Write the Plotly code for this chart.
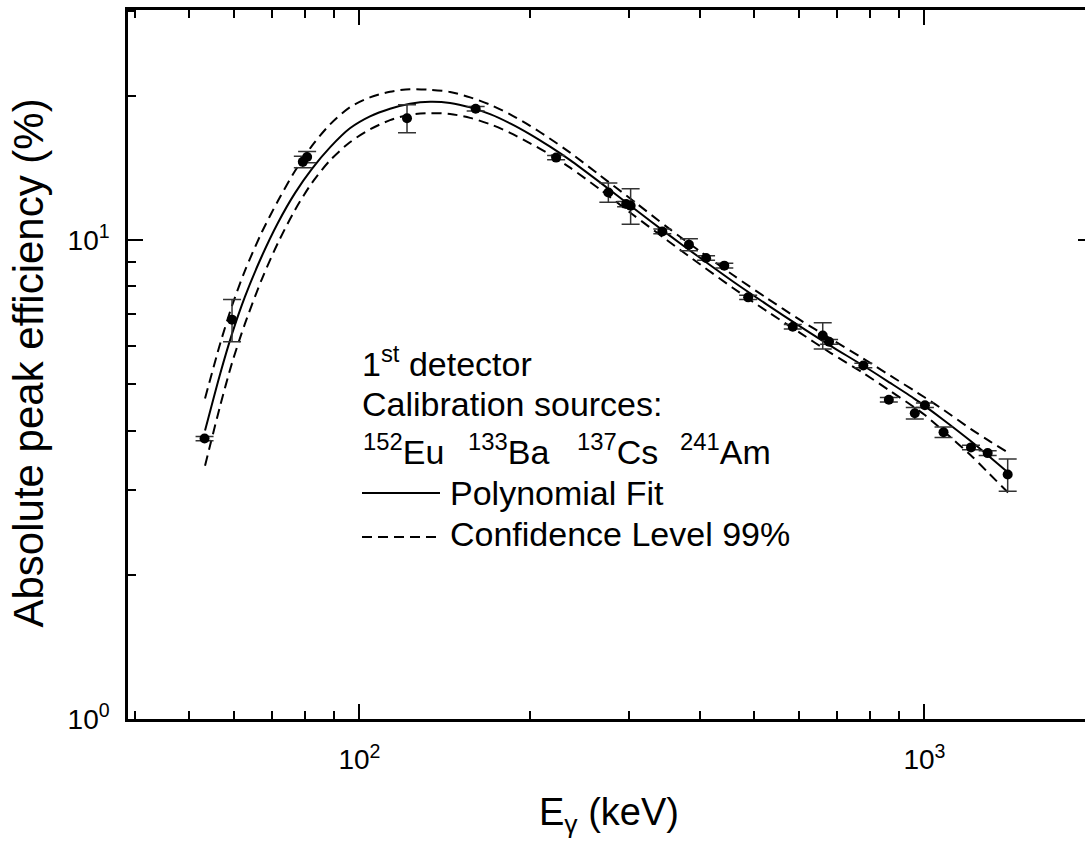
import plotly.graph_objects as go

# ---- measured data points (energy keV, efficiency %, error %) ----
energy = [53.2, 59.5, 79.4, 80.8, 121.4, 160.6, 222.9, 275.8, 296.5, 302.0,
          343.6, 383.0, 410.7, 442.4, 487.6, 584.8, 660.7, 678.0, 779.6, 865.0,
          961.5, 1002.0, 1081.0, 1209.0, 1294.0, 1404.0]
efficiency = [3.85, 6.82, 14.56, 14.90, 17.95, 18.80, 14.86, 12.57, 11.89, 11.79,
              10.42, 9.78, 9.17, 8.84, 7.59, 6.59, 6.32, 6.13, 5.47, 4.64,
              4.35, 4.52, 3.97, 3.69, 3.59, 3.24]
eff_error = [0.04, 0.69, 0.40, 0.40, 1.20, 0.20, 0.15, 0.58, 0.15, 1.00,
             0.12, 0.28, 0.10, 0.10, 0.08, 0.07, 0.40, 0.07, 0.06, 0.05,
             0.12, 0.05, 0.10, 0.04, 0.04, 0.25]

# ---- fit curve and 99% confidence band ----
fit_energy = [53.3, 56.7, 59.5, 62.7, 67.2, 71.8, 76.9, 82.4, 88.7, 96.2,
              104.4, 113.3, 122.9, 133.4, 144.7, 157.0, 170.3, 184.8, 200.5, 217.5,
              236.0, 266.6, 305.0, 350.4, 400.6, 458.3, 526.4, 602.3, 680.7, 778.5,
              870.0, 961.0, 1002.0, 1081.0, 1209.0, 1296.0, 1406.0]
fit_eff = [4.00, 5.26, 6.37, 7.61, 9.26, 10.88, 12.53, 14.08, 15.61, 17.11,
           18.12, 18.80, 19.26, 19.44, 19.33, 18.92, 18.31, 17.52, 16.62, 15.66,
           14.68, 13.19, 11.68, 10.31, 9.18, 8.19, 7.33, 6.60, 6.02, 5.47,
           5.03, 4.66, 4.50, 4.21, 3.80, 3.55, 3.27]
upper_eff = [4.67, 6.08, 7.29, 8.62, 10.39, 12.09, 13.93, 15.73, 17.43, 18.93,
             19.85, 20.40, 20.65, 20.59, 20.38, 19.85, 19.17, 18.29, 17.31, 16.27,
             15.22, 13.64, 12.08, 10.64, 9.47, 8.45, 7.56, 6.81, 6.23, 5.66,
             5.21, 4.84, 4.69, 4.42, 4.03, 3.82, 3.60]
lower_eff = [3.38, 4.51, 5.54, 6.68, 8.29, 9.88, 11.55, 13.16, 14.66, 16.00,
             17.02, 17.79, 18.27, 18.40, 18.33, 17.99, 17.45, 16.74, 15.92, 15.07,
             14.16, 12.75, 11.29, 9.99, 8.90, 7.94, 7.10, 6.40, 5.82, 5.28,
             4.84, 4.47, 4.31, 3.99, 3.55, 3.27, 2.97]

# ---- axis ticks ----
x_major = [100, 1000]
x_major_text = ["10<sup>2</sup>", "10<sup>3</sup>"]
x_minor = [40, 50, 60, 70, 80, 90, 200, 300, 400, 500, 600, 700, 800, 900]
y_major = [1, 10]
y_major_text = ["10<sup>0</sup>", "10<sup>1</sup>"]
y_minor = [2, 3, 4, 5, 6, 7, 8, 9, 20, 30]

isotopes = [("152", "Eu"), ("133", "Ba"), ("137", "Cs"), ("241", "Am")]

W, H = 1085, 842
L, R, T, B = 128, 0, 10, 123
PW, PH = W - L - R, H - T - B


def px(xp):
    return (xp - L) / PW


def py(yp):
    return (H - B - yp) / PH


FONT = "Liberation Sans, Arial, sans-serif"

fig = go.Figure()

dash_line = dict(color="black", width=2, dash="10px,6px", shape="spline", smoothing=0.8)
fig.add_trace(go.Scatter(x=fit_energy, y=upper_eff, mode="lines", line=dash_line,
                         showlegend=False, hoverinfo="skip"))
fig.add_trace(go.Scatter(x=fit_energy, y=lower_eff, mode="lines", line=dash_line,
                         showlegend=False, hoverinfo="skip"))
fig.add_trace(go.Scatter(x=fit_energy, y=fit_eff, mode="lines",
                         line=dict(color="black", width=2, shape="spline", smoothing=0.8),
                         showlegend=False, hoverinfo="skip"))
fig.add_trace(go.Scatter(x=energy, y=efficiency, mode="markers",
                         marker=dict(color="black", size=10),
                         error_y=dict(type="data", array=eff_error, visible=True,
                                      color="#333333", thickness=1.5, width=9),
                         showlegend=False))
# carrier for the right-hand tick axis
fig.add_trace(go.Scatter(x=[None], y=[None], yaxis="y2", showlegend=False, hoverinfo="skip"))

axis_common = dict(type="log", showgrid=False, zeroline=False, showline=True,
                   linecolor="black", linewidth=2.5, ticks="inside", ticklen=15,
                   tickwidth=2, tickcolor="black",
                   tickfont=dict(family=FONT, size=28, color="black"))

fig.update_layout(
    width=W, height=H,
    margin=dict(l=L, r=R, t=T, b=B, pad=0),
    paper_bgcolor="white", plot_bgcolor="white",
    xaxis=dict(axis_common, range=[1.5904, 3.2842], tickmode="array",
               tickvals=x_major, ticktext=x_major_text, mirror="ticks",
               ticklabelstandoff=14,
               minor=dict(tickmode="array", tickvals=x_minor, ticks="inside",
                          ticklen=8, tickwidth=2, tickcolor="black")),
    yaxis=dict(axis_common, range=[0, 1.4802], tickmode="array",
               tickvals=y_major, ticktext=y_major_text,
               ticklabelstandoff=10,
               minor=dict(tickmode="array", tickvals=y_minor, ticks="inside",
                          ticklen=8, tickwidth=2, tickcolor="black")),
    yaxis2=dict(type="log", range=[0, 1.4802], overlaying="y", side="right",
                showgrid=False, zeroline=False, showline=False,
                tickmode="array", tickvals=y_major, showticklabels=False,
                ticks="inside", ticklen=7, tickwidth=2, tickcolor="black"),
    showlegend=False,
)

ann = []
# axis titles
ann.append(dict(text="Absolute peak efficiency (%)", x=px(28), y=py(363.5), xref="paper", yref="paper",
                textangle=-90, showarrow=False, xanchor="center", yanchor="middle",
                font=dict(family=FONT, size=42, color="black")))
ann.append(dict(text="E<sub>γ</sub> (keV)", x=px(609), y=py(815), xref="paper", yref="paper",
                showarrow=False, xanchor="center", yanchor="middle",
                font=dict(family=FONT, size=38, color="black")))

legend_font = dict(family=FONT, size=34, color="black")
ann.append(dict(text="1<sup>st</sup> detector", x=px(360), y=py(361), xref="paper", yref="paper",
                showarrow=False, xanchor="left", yanchor="middle", font=legend_font))
ann.append(dict(text="Calibration sources:", x=px(360), y=py(404), xref="paper", yref="paper",
                showarrow=False, xanchor="left", yanchor="middle", font=legend_font))
for xs, (mass, sym) in zip([361, 466, 575, 678], isotopes):
    ann.append(dict(text="<sup>" + mass + "</sup>" + sym, x=px(xs), y=py(450), xref="paper", yref="paper",
                    showarrow=False, xanchor="left", yanchor="middle", font=legend_font))
ann.append(dict(text="Polynomial Fit", x=px(448), y=py(493), xref="paper", yref="paper",
                showarrow=False, xanchor="left", yanchor="middle", font=legend_font))
ann.append(dict(text="Confidence Level 99%", x=px(448), y=py(534), xref="paper", yref="paper",
                showarrow=False, xanchor="left", yanchor="middle", font=legend_font))
fig.update_layout(annotations=ann)

fig.add_shape(type="line", xref="paper", yref="paper", x0=px(362), x1=px(440), y0=py(493), y1=py(493),
              line=dict(color="black", width=2))
fig.add_shape(type="line", xref="paper", yref="paper", x0=px(362), x1=px(440), y0=py(537), y1=py(537),
              line=dict(color="black", width=2, dash="10px,6px"))

fig.write_html("out.html")
